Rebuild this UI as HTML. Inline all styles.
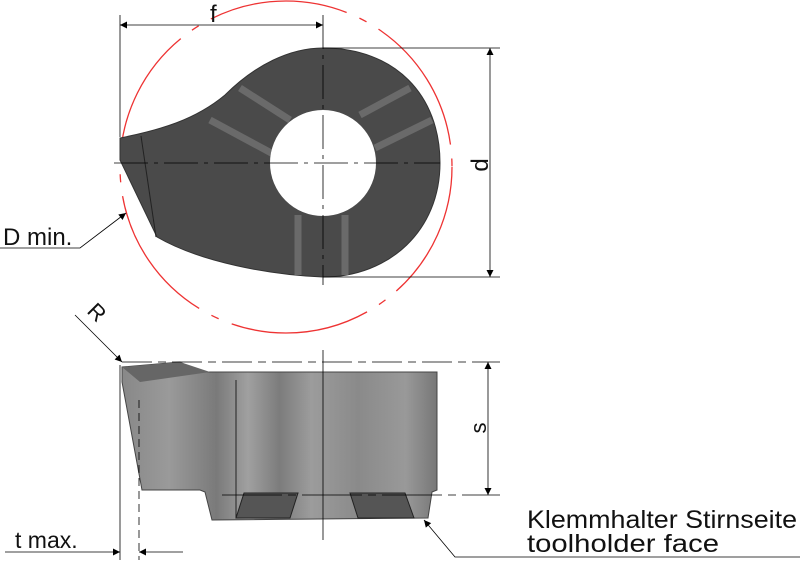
<!DOCTYPE html>
<html><head><meta charset="utf-8"><style>
html,body{margin:0;padding:0;background:#fff;width:800px;height:565px;overflow:hidden}
svg{display:block}
text{font-family:"Liberation Sans",sans-serif;fill:#111}
</style></head><body>
<svg width="800" height="565" viewBox="0 0 800 565" xmlns="http://www.w3.org/2000/svg">
<defs>
<marker id="a" viewBox="0 0 10 10" refX="10" refY="5" markerWidth="14" markerHeight="7" markerUnits="userSpaceOnUse" orient="auto-start-reverse"><path d="M0,0L10,5L0,10z" fill="#000"/></marker>
<linearGradient id="g" x1="0" x2="1">
<stop offset="0" stop-color="#888"/><stop offset="0.15" stop-color="#9a9a9a"/><stop offset="0.3" stop-color="#7a7a7a"/><stop offset="0.4" stop-color="#a0a0a0"/><stop offset="0.5" stop-color="#7c7c7c"/><stop offset="0.6" stop-color="#9c9c9c"/><stop offset="0.75" stop-color="#8a8a8a"/><stop offset="0.9" stop-color="#999"/><stop offset="1" stop-color="#777"/></linearGradient>
</defs>
<circle cx="286" cy="167" r="166" fill="none" stroke="#e33" stroke-width="1.3" stroke-dasharray="140 14 8 14"/>
<path d="M120,138 C160,130 195,120 225,95 C255,65 290,48 323,48 C395,48 440,95 440,163 C440,230 390,277 323,277 C270,275 200,262 157,237 L120,160 Z" fill="#4a4a4a" stroke="#333"/>
<path d="M141,136 L156,237" stroke="#222" fill="none"/>
<g stroke="#6a6a6a" stroke-width="7" fill="none">
<path d="M240,88 L290,120"/><path d="M210,120 L275,155"/>
<path d="M360,115 L410,88"/><path d="M375,148 L432,120"/>
<path d="M298,215 L298,275"/><path d="M345,215 L345,275"/>
</g>
<circle cx="323" cy="163" r="53" fill="#fff"/>
<g stroke="#000" stroke-width="0.8" fill="none">
<path d="M114,163 H440" stroke-dasharray="34 6 4 6"/>
<path d="M323,15 V285" stroke-dasharray="34 6 4 6"/>
<path d="M120,15 V137"/><path d="M120,25 H323" marker-start="url(#a)" marker-end="url(#a)"/>
<path d="M323,48 H500"/><path d="M323,277 H500"/>
<path d="M490,48 V277" marker-start="url(#a)" marker-end="url(#a)"/>
<path d="M0,248 H80 L126,213" marker-end="url(#a)"/>
</g>
<text x="210" y="22" font-size="24">f</text>
<text transform="translate(488,165) rotate(-90)" font-size="24" text-anchor="middle">d</text>
<text x="3" y="245" font-size="24">D min.</text>
<path d="M122,367 L180,362 L198,372 L437,372 L437,490 L432,492 L428,518 L212,520 L205,492 L200,490 L142,490 L122,382 Z" fill="url(#g)" stroke="#444"/>
<path d="M122,367 L180,362 L210,372 L140,382 Z" fill="#666"/>
<path d="M236,380 V518" stroke="#222"/>
<path d="M244,493 L298,493 L290,518 L236,518 Z" fill="#555" stroke="#222"/>
<path d="M350,493 L405,493 L414,518 L358,518 Z" fill="#555" stroke="#222"/>
<g stroke="#000" stroke-width="0.8" fill="none">
<path d="M122,362 H500" stroke-dasharray="30 6 8 6"/>
<path d="M222,495 H500" stroke-dasharray="60 6 8 6"/>
<path d="M323,350 V540"/>
<path d="M488,362 V495" marker-start="url(#a)" marker-end="url(#a)"/>
<path d="M120,365 V560"/><path d="M139,400 V560" stroke-dasharray="8 5"/>
<path d="M5,552 H120" marker-end="url(#a)"/><path d="M183,552 H139" marker-end="url(#a)"/>
<path d="M75,315 L122,362" marker-end="url(#a)"/>
<path d="M800,557 H455 L424,520" marker-end="url(#a)"/>
</g>
<text transform="translate(86,312) rotate(45)" font-size="22">R</text>
<text transform="translate(486,428) rotate(-90)" font-size="22" text-anchor="middle">s</text>
<text x="15" y="548" font-size="23">t max.</text>
<text x="527" y="528" font-size="25" textLength="270" lengthAdjust="spacingAndGlyphs">Klemmhalter Stirnseite</text>
<text x="527" y="552" font-size="25" textLength="192" lengthAdjust="spacingAndGlyphs">toolholder face</text>
</svg>
</body></html>
